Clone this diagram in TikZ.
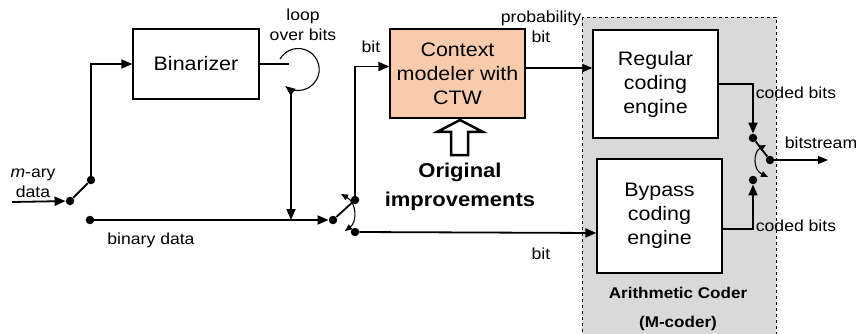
\documentclass[tikz,border=0pt]{standalone}
\usepackage{fontspec}
\setmainfont[FakeStretch=1.1]{Liberation Sans}
\usetikzlibrary{arrows.meta,calc}
\definecolor{peach}{HTML}{F8CBAD}
\definecolor{coderbg}{HTML}{D9D9D9}
\begin{document}
\begin{tikzpicture}[x=1pt,y=-1pt,
  thickln/.style={line width=1.8pt},
  thinln/.style={line width=1.1pt},
  tri/.style={-{Triangle[length=11pt,width=9pt]}},
  bitri/.style={{Triangle[length=7pt,width=6pt]}-{Triangle[length=7pt,width=6pt]}},
  blk/.style={draw,line width=1.3pt,align=center,inner sep=0pt,font=\fontsize{19.5}{24}\selectfont},
  dot/.style={circle,fill,inner sep=0pt,minimum size=8.5pt},
  lbl/.style={align=center,inner sep=0pt,font=\fontsize{16}{20}\selectfont},
  blbl/.style={align=center,inner sep=0pt,font=\bfseries\fontsize{15.5}{29}\selectfont}]
\useasboundingbox (0,0) rectangle (859,334);
% arithmetic coder region
\path[fill=coderbg,draw=black,dashed,line width=0.7pt] (582,17) rectangle (776,340);
% boxes
\node[blk,minimum width=126pt,minimum height=70pt] (bin) at (196,64) {Binarizer};
\node[blk,fill=peach,minimum width=135pt,minimum height=89pt] (ctx) at (457.5,73.5) {Context\\modeler with\\CTW};
\node[blk,fill=white,minimum width=125pt,minimum height=108pt] (reg) at (655.5,84) {Regular\\coding\\engine};
\node[blk,fill=white,minimum width=125pt,minimum height=114pt] (byp) at (659.5,216) {Bypass\\coding\\engine};
% dots
\node[dot] (s1) at (70,201) {};
\node[dot] (s1a) at (91,180) {};
\node[dot] (bd) at (90,220) {};
\node[dot] (s2) at (333,220) {};
\node[dot] (s2a) at (355,200) {};
\node[dot] (s2b) at (355,232) {};
\node[dot] (r1) at (753,138) {};
\node[dot] (r2) at (753,180) {};
\node[dot] (out) at (770,160) {};
% coordinates
\coordinate (in0) at (12,202);
\coordinate (loopin) at (289,64);
\coordinate (loopstart) at (280,59);
\coordinate (vtop) at (291,88);
\coordinate (vbot) at (291,220);
\coordinate (bsend) at (828,160);
% labels
\node[lbl] (mary) at (33,183) {\textit{m}-ary\\data};
\node[lbl] (bdl) at (151,240) {binary data};
\node[lbl] (loopl) at (303,25) {loop\\over bits};
\node[lbl] (bit1) at (371,47) {bit};
\node[lbl] (probl) at (541,27) {probability\\bit};
\node[lbl] (bit2) at (541,254) {bit};
\node[lbl] (cb1) at (796,93) {coded bits};
\node[lbl] (cb2) at (796,226) {coded bits};
\node[lbl] (bsl) at (821,143) {bitstream};
\node[blbl] (orig) at (460,187) {\fontsize{20}{27}\selectfont Original\\\fontsize{20}{27}\selectfont improvements};
\node[blbl] (arith) at (678,309) {Arithmetic Coder\\(M-coder)};
% connectors
\draw[thickln,tri] (in0) -- (s1);
\draw[thickln] (s1) -- (s1a);
\draw[thickln,tri] (s1a) |- (bin.west);
\draw[thickln] (bin.east |- loopin) -- (loopin);
\draw[thinln,-{Triangle[length=10pt,width=8pt]}] (loopstart) arc[start angle=150,end angle=-128,radius=21pt];
\draw[thickln,tri] (vtop) -- (vbot);
\draw[thickln,tri] (bd) -- (s2);
\draw[thickln] (s2) -- (s2a);
\draw[thinln,bitri] (341,194) .. controls (357,203) and (357,222) .. (345,231);
\draw[thickln,tri] (s2a) |- ([yshift=7pt]ctx.west);
\draw[thickln,tri] (s2b) -- ([yshift=-17pt]byp.west);
\draw[thinln,-{Triangle[length=10pt,width=8pt]}] ([yshift=5.5pt]ctx.east) -- ([yshift=16pt]reg.west);
\draw[thickln,tri] (reg.east) -| (r1);
\draw[thickln,tri] ([yshift=-13pt]byp.east) -| (r2);
\draw[thickln] (r1) -- (out);
\draw[thinln,bitri] (766,145) .. controls (753,152) and (753,170) .. (768,177);
\draw[thinln,-{Triangle[length=10pt,width=8pt]}] (out) -- (bsend);
% hollow arrow
\draw[line width=2.5pt,fill=white] (451,155) -- (451,132) -- (437,132) -- (460,120) -- (483,132) -- (468,132) -- (468,155) -- cycle;
\end{tikzpicture}
\end{document}
